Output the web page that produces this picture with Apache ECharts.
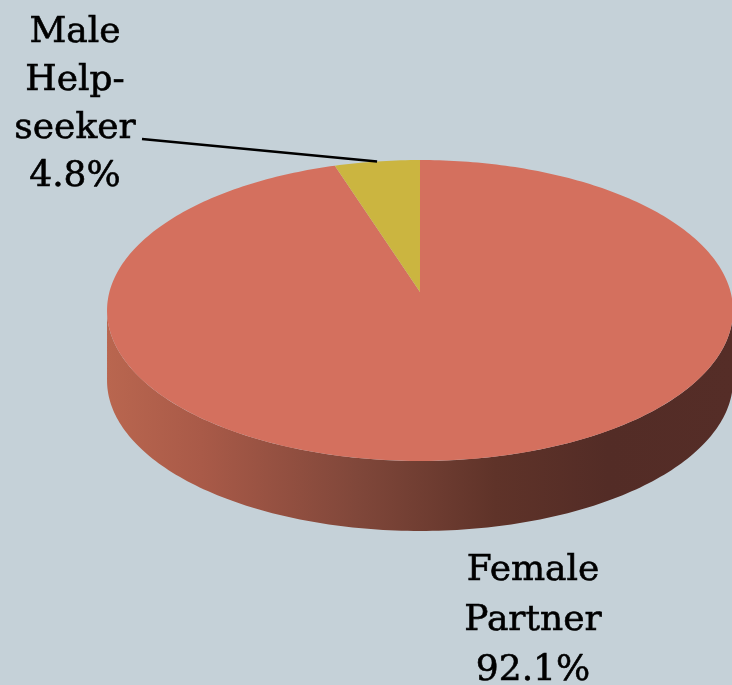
<!DOCTYPE html>
<html>
<head>
<meta charset="utf-8">
<style>
  html, body { margin: 0; padding: 0; background: #c5d1d8; }
  #chart { width: 732px; height: 685px; }
</style>
<script src="https://cdn.jsdelivr.net/npm/echarts@6/dist/echarts.min.js"></script>
</head>
<body>
<div id="chart"></div>
<script>
// slices, clockwise from 12 o'clock
const names = ['Female\nPartner', 'Male\nHelp-\nseeker']
const values = [92.1, 4.8]
const colors = ['#d4705e', '#cbb540']

// tilted disc with a little perspective (k), centre projects to (cx, cy)
const pie = { cx: 420, cy: 292, rx: 310.6, ry: 148.2, k: 0.1229, depth: 70 }
// label anchors: centre of the text block, plus optional leader start
const labelLayout = [
  { x: 533, y: 621, lh: 50, line: null },
  { x: 75, y: 105, lh: 48, line: [142, 139] }
]

const total = values.reduce((a, b) => a + b, 0)

function pt(deg, dy) {
  const r = deg * Math.PI / 180
  const u = Math.sin(r)
  const v = Math.cos(r)
  const s = 1 / (1 + pie.k * v)
  return [pie.cx + pie.rx * u * s, pie.cy - pie.ry * v * s + (dy || 0)]
}

function arc(a0, a1, dy) {
  const pts = []
  const n = Math.max(2, Math.ceil(Math.abs(a1 - a0)))
  for (let k = 0; k <= n; k++) pts.push(pt(a0 + (a1 - a0) * k / n, dy))
  return pts
}

function renderItem(params, api) {
  const i = params.dataIndex
  let start = 0
  for (let j = 0; j < i; j++) start += values[j] / total * 360
  const end = start + api.value(0) / total * 360
  const children = []

  // front wall, only the part facing the viewer (between the silhouette points)
  const edge = Math.acos(-pie.k) * 180 / Math.PI
  const s0 = Math.max(start, edge)
  const s1 = Math.min(end, 360 - edge)
  if (s1 > s0) {
    const top = arc(s0, s1, 0)
    const bottom = arc(s1, s0, pie.depth)
    children.push({
      type: 'polygon',
      shape: { points: top.concat(bottom) },
      style: {
        fill: new echarts.graphic.LinearGradient(0, 0, 1, 0, [
          { offset: 0, color: '#b9664f' },
          { offset: 0.15, color: '#a95a48' },
          { offset: 0.4, color: '#80473a' },
          { offset: 0.62, color: '#5f3329' },
          { offset: 0.8, color: '#532c26' },
          { offset: 1, color: '#552d27' }
        ])
      }
    })
  }

  // top face
  children.push({
    type: 'polygon',
    shape: { points: [[pie.cx, pie.cy]].concat(arc(start, end, 0)) },
    style: { fill: colors[i] }
  })

  // label
  const lay = labelLayout[i]
  const pct = (api.value(0)).toFixed(1) + '%'
  children.push({
    type: 'text',
    x: lay.x,
    y: lay.y,
    style: {
      text: names[i] + '\n' + pct,
      font: '36px "DejaVu Serif"',
      fill: '#000',
      stroke: '#000',
      lineWidth: 0.6,
      align: 'center',
      verticalAlign: 'middle',
      lineHeight: lay.lh
    }
  })
  if (lay.line) {
    const mid = pt((start + end) / 2, 0)
    children.push({
      type: 'polyline',
      shape: { points: [lay.line, mid] },
      style: { stroke: '#000', lineWidth: 2.5, fill: null }
    })
  }

  return { type: 'group', children: children }
}

const chart = echarts.init(document.getElementById('chart'))
chart.setOption({
  backgroundColor: '#c5d1d8',
  animation: false,
  series: [{
    type: 'custom',
    coordinateSystem: 'none',
    renderItem: renderItem,
    data: values.map((v, i) => [v, i])
  }]
})
</script>
</body>
</html>
